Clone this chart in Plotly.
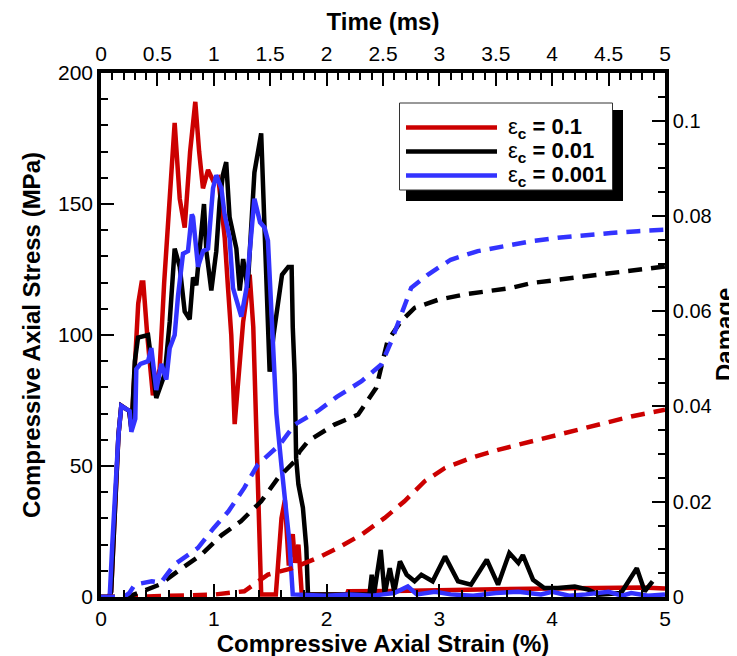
import plotly.graph_objects as go

# ---------------- data ----------------
# Stress vs strain (solid lines)
strain_r = [0, 0.07, 0.09, 0.12, 0.155, 0.18, 0.25, 0.27, 0.298, 0.33, 0.36, 0.375, 0.41, 0.46, 0.50, 0.52,
            0.56, 0.609, 0.653, 0.698, 0.742, 0.79, 0.836, 0.87, 0.904, 0.949, 0.993, 1.04, 1.097, 1.126, 1.155,
            1.185, 1.23, 1.26, 1.29, 1.318, 1.35, 1.39, 1.42, 1.55, 1.60, 1.63, 1.665, 1.70, 1.72, 1.75, 1.78,
            2.18, 2.19, 2.6, 3.0, 3.5, 4.0, 4.5, 4.8, 5.0]
stress_r = [0, 0, 2, 30, 62, 73, 71, 64, 90, 112, 120, 120, 100, 77, 84, 87,
            120, 156, 181, 152, 141, 170, 189, 170, 156, 163, 159, 160, 137, 118, 100,
            66, 90, 105, 114, 123, 103, 47, 1, 1, 30, 37, 12, 24, 13, 20, 1,
            1, 2.2, 2.3, 2.8, 3.0, 3.2, 3.4, 3.6, 3.2]

strain_k = [0, 0.07, 0.09, 0.12, 0.155, 0.18, 0.25, 0.27, 0.30, 0.328, 0.417, 0.49, 0.565, 0.609, 0.653,
            0.698, 0.742, 0.786, 0.816, 0.845, 0.875, 0.913, 0.934, 0.978, 1.022, 1.052, 1.08, 1.11, 1.14,
            1.20, 1.23, 1.26, 1.30, 1.36, 1.42, 1.45, 1.495, 1.53, 1.57, 1.605, 1.66, 1.69, 1.70, 1.717,
            1.73, 1.75, 1.79, 1.82, 1.835, 2.35, 2.38, 2.40, 2.42, 2.48, 2.515, 2.56, 2.60, 2.65, 2.71,
            2.78, 2.84, 2.94, 3.05, 3.165, 3.28, 3.42, 3.52, 3.62, 3.70, 3.74, 3.83, 3.93, 4.05, 4.20,
            4.32, 4.41, 4.61, 4.75, 4.82, 4.89]
stress_k = [0, 0, 2, 30, 62, 73, 71, 64, 90, 99, 100, 76, 85, 105, 133,
            126, 109, 106, 122, 119, 131, 150, 132, 117, 132, 151, 161, 166, 145,
            133, 117, 129, 118, 162, 177, 141, 86, 100, 112, 123, 126, 126, 103, 85,
            53, 43, 34, 19, 1, 1, 1, 8.5, 1, 18, 1, 11, 2, 13.6, 8.5,
            6, 8.5, 6, 15.5, 6, 4.7, 14.2, 4.7, 16.8, 13, 16, 6.6, 3.4, 3.4, 4,
            2.8, 0.9, 1.5, 11, 2.2, 6]

strain_b = [0, 0.077, 0.10, 0.155, 0.18, 0.254, 0.269, 0.304, 0.313, 0.35, 0.417, 0.446, 0.49, 0.535,
            0.579, 0.609, 0.653, 0.683, 0.727, 0.771, 0.805, 0.816, 0.86, 0.904, 0.949, 0.993, 1.022, 1.067,
            1.096, 1.14, 1.17, 1.244, 1.29, 1.36, 1.41, 1.45, 1.48, 1.51, 1.555, 1.60, 1.64, 1.67, 1.70,
            2.0, 2.2, 2.4, 2.5, 2.6, 2.72, 2.8, 2.96, 3.1, 3.3, 3.5, 3.7, 3.9, 4.0, 4.15, 4.3, 4.5,
            4.62, 4.7, 4.85, 5.0]
stress_b = [0, 0, 20, 62, 73, 71, 63, 68, 87, 89, 90, 95, 79, 89,
            83, 95, 100, 115, 131, 132, 146, 145, 126, 132, 133, 156, 161, 156,
            146, 137, 118, 107, 118, 152, 143, 141, 136, 108, 70, 50, 34, 21, 1,
            0.5, 1, 0.5, 1, 1.5, 4, 1, 2, 1, 0.5, 1.5, 2, 1, 2, 0.5, 1, 2,
            0.5, 1.5, 0.5, 1]

# Damage vs strain (dashed lines)
dstrain_r = [0, 0.4, 1.0, 1.27, 1.48, 1.69, 1.92, 2.1, 2.31, 2.515, 2.69, 2.87, 3.05, 3.28, 3.52,
             3.76, 3.99, 4.23, 4.47, 4.70, 5.0]
damage_r = [0, 0.0001, 0.0005, 0.0012, 0.0047, 0.006, 0.0082, 0.0103, 0.0131, 0.0166, 0.0201, 0.0243,
            0.0271, 0.0292, 0.0309, 0.0323, 0.0337, 0.0351, 0.0365, 0.0379, 0.0393]

dstrain_k = [0, 0.25, 0.29, 0.52, 0.68, 0.89, 1.07, 1.24, 1.42, 1.57, 1.717, 1.76, 1.835, 2.07, 2.28,
             2.40, 2.44, 2.54, 2.66, 2.78, 2.99, 3.22, 3.46, 3.64, 3.815, 4.05, 4.29, 4.52, 4.76, 5.0]
damage_k = [0, 0, 0.0005, 0.0026, 0.0054, 0.0089, 0.013, 0.0159, 0.0201, 0.025, 0.0285, 0.0305, 0.0327,
            0.0362, 0.0383, 0.0425, 0.0439, 0.0537, 0.0579, 0.0607, 0.0624, 0.0635, 0.0642, 0.0649,
            0.0659, 0.0666, 0.0673, 0.068, 0.0687, 0.0694]

dstrain_b = [0, 0.2, 0.25, 0.30, 0.45, 0.53, 0.65, 0.86, 1.0, 1.13, 1.27, 1.39, 1.585, 1.717, 1.92, 2.09,
             2.31, 2.485, 2.574, 2.66, 2.75, 2.9, 3.1, 3.34, 3.58, 3.815, 4.05, 4.29, 4.52, 4.76, 5.0]
damage_b = [0, 0, 0.0008, 0.0026, 0.0033, 0.003, 0.0068, 0.0103, 0.0145, 0.018, 0.0229, 0.0278, 0.032,
            0.0362, 0.039, 0.042, 0.0453, 0.0488, 0.0537, 0.0593, 0.0649, 0.0677, 0.0708, 0.0726, 0.0736,
            0.0747, 0.0754, 0.076, 0.0764, 0.0768, 0.0771]

# Time axis (top) spans the same 0-5 range as the strain axis
time_range = [0, 5]

legend_values = ["0.1", "0.01", "0.001"]

# ---------------- styling ----------------
RED, BLACK, BLUE = "#CC0000", "#000000", "#3333FF"
colors = [RED, BLACK, BLUE]
FONT = "Liberation Sans, Arial, Helvetica, sans-serif"
W, H = 737, 656
L, R, T, B = 93, 80, 65, 67
PW, PH = W - L - R, H - T - B

fig = go.Figure()
for xs, ys, c in [(strain_r, stress_r, RED), (strain_k, stress_k, BLACK), (strain_b, stress_b, BLUE)]:
    fig.add_trace(go.Scatter(x=xs, y=ys, mode="lines", showlegend=False, line=dict(color=c, width=4.5)))
# invisible carrier trace so the top (time) axis is drawn
fig.add_trace(go.Scatter(x=time_range, y=[0, 0], xaxis="x2", yaxis="y", mode="lines", opacity=0,
                         hoverinfo="skip", showlegend=False, line=dict(width=0)))
for xs, ys, c in [(dstrain_r, damage_r, RED), (dstrain_k, damage_k, BLACK), (dstrain_b, damage_b, BLUE)]:
    fig.add_trace(go.Scatter(x=xs, y=ys, mode="lines", yaxis="y2", showlegend=False,
                             line=dict(color=c, width=4.5, dash="14px,9px")))

axis_common = dict(showline=True, linecolor="black", linewidth=3.5, ticks="inside", ticklen=13,
                   tickwidth=2, tickcolor="black", showgrid=False, zeroline=False,
                   tickfont=dict(size=21, family=FONT, color="black"))


def minor(d):
    return dict(dtick=d, ticks="inside", ticklen=7, tickwidth=2, tickcolor="black", showgrid=False)


TF = dict(size=24, family=FONT, color="black")
fig.update_layout(
    width=W, height=H, margin=dict(l=L, r=R, t=T, b=B, autoexpand=False),
    paper_bgcolor="white", plot_bgcolor="white", showlegend=False,
    font=dict(family=FONT, color="black"),
    xaxis=dict(range=[0, 5], tick0=0, dtick=1, minor=minor(0.2), side="bottom", anchor="y",
               title=dict(text="<b>Compressive Axial Strain (%)</b>", font=TF, standoff=5), **axis_common),
    xaxis2=dict(range=time_range, tick0=0, dtick=0.5, minor=minor(0.1), side="top", overlaying="x", anchor="y",
                title=dict(text="<b>Time (ms)</b>", font=TF, standoff=7), **axis_common),
    yaxis=dict(range=[0, 200], tick0=0, dtick=50, minor=minor(10), side="left", anchor="x",
               title=dict(text="<b>Compressive Axial Stress (MPa)</b>", font=TF, standoff=12), **axis_common),
    yaxis2=dict(range=[0, 0.11], tick0=0, dtick=0.02, minor=minor(0.005), side="right", overlaying="y",
                anchor="x", **axis_common),
)
fig.update_layout(yaxis2_tickfont_size=20)


# ---------------- legend box with drop shadow (paper coordinates) ----------------
def px(xp):
    return (xp - L) / PW


def py(yp):
    return (H - B - yp) / PH


shapes = [
    dict(type="rect", xref="paper", yref="paper", x0=px(398), x1=px(615), y0=py(193), y1=py(102),
         fillcolor="black", line=dict(width=0), layer="above"),
    dict(type="rect", xref="paper", yref="paper", x0=px(391.5), x1=px(604.5), y0=py(182), y1=py(95),
         fillcolor="white", line=dict(color="#333333", width=1), layer="above"),
]
annotations = [
    # right axis title
    dict(xref="paper", yref="paper", x=px(716), y=0.5, xanchor="center", yanchor="middle",
         text="<b>Damage</b>", textangle=-90, showarrow=False, font=TF),
]
rows = [119.5, 143.5, 167.5]
for val, c, yr in zip(legend_values, colors, rows):
    shapes.append(dict(type="line", xref="paper", yref="paper", x0=px(398), x1=px(489), y0=py(yr), y1=py(yr),
                       line=dict(color=c, width=4.5), layer="above"))
    annotations.append(dict(xref="paper", yref="paper", x=px(498), y=py(yr), xanchor="left", yanchor="middle",
                            text="\u03b5<b><sub>c</sub> = " + val + "</b>", showarrow=False,
                            font=dict(size=22, family=FONT, color="black")))
fig.update_layout(shapes=shapes, annotations=annotations)

fig.write_html("out.html")
